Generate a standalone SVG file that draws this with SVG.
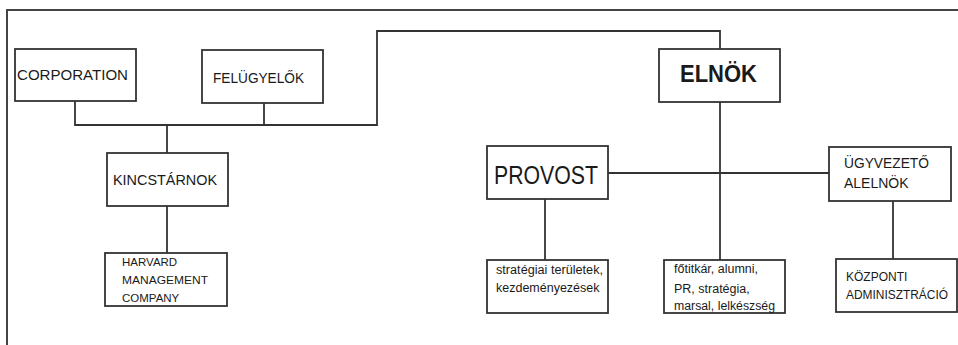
<svg xmlns="http://www.w3.org/2000/svg" width="958" height="345" viewBox="0 0 958 345">
<style>
.box{fill:#fff;stroke:#333;stroke-width:1.8}
.ln{fill:none;stroke:#333;stroke-width:1.8}
.frame{fill:none;stroke:#444;stroke-width:2}
text{font-family:"Liberation Sans",Arial,sans-serif;fill:#1a1a1a}
</style>
<rect width="958" height="345" fill="#fff"/>
<path class="frame" d="M7,345 V10 H958"/>
<g id="connectors">
<path class="ln" d="M75,101 V125 H377 V31 H720 V49"/>
<path class="ln" d="M264,103 V125"/>
<path class="ln" d="M167,125 V153"/>
<path class="ln" d="M167,206 V253"/>
<path class="ln" d="M720,102 V260"/>
<path class="ln" d="M608,173 H829"/>
<path class="ln" d="M545,199 V260"/>
<path class="ln" d="M893,201 V259"/>
</g>
<g id="corporation">
<rect class="box" x="15" y="49" width="121" height="52"/>
<text x="17" y="80" font-size="14.5" textLength="111" lengthAdjust="spacingAndGlyphs">CORPORATION</text>
</g>
<g id="felugyelok">
<rect class="box" x="202" y="50" width="121" height="53"/>
<text x="213" y="83" font-size="14.5" textLength="91" lengthAdjust="spacingAndGlyphs">FELÜGYELŐK</text>
</g>
<g id="elnok">
<rect class="box" x="659" y="49" width="121" height="53"/>
<text x="680" y="82" font-size="23" font-weight="bold" textLength="77" lengthAdjust="spacingAndGlyphs">ELNÖK</text>
</g>
<g id="kincstarnok">
<rect class="box" x="107" y="153" width="121" height="53"/>
<text x="113" y="185" font-size="14.5" textLength="104" lengthAdjust="spacingAndGlyphs">KINCSTÁRNOK</text>
</g>
<g id="harvard">
<rect class="box" x="105" y="253" width="122" height="53"/>
<text x="122" y="266" font-size="11.5">HARVARD</text>
<text x="122" y="284" font-size="11.5" textLength="86" lengthAdjust="spacingAndGlyphs">MANAGEMENT</text>
<text x="122" y="302" font-size="11.5">COMPANY</text>
</g>
<g id="provost">
<rect class="box" x="487" y="146" width="121" height="53"/>
<text x="494" y="184" font-size="25" textLength="104" lengthAdjust="spacingAndGlyphs">PROVOST</text>
</g>
<g id="ugyvezeto">
<rect class="box" x="829" y="147" width="122" height="54"/>
<text x="844" y="168" font-size="14" textLength="85" lengthAdjust="spacingAndGlyphs">ÜGYVEZETŐ</text>
<text x="844" y="188" font-size="14">ALELNÖK</text>
</g>
<g id="strategiai">
<rect class="box" x="487" y="260" width="121" height="53"/>
<text x="496" y="274" font-size="12.5" textLength="107" lengthAdjust="spacingAndGlyphs">stratégiai területek,</text>
<text x="496" y="292" font-size="12.5">kezdeményezések</text>
</g>
<g id="fotitkar">
<rect class="box" x="664" y="260" width="121" height="53"/>
<text x="674" y="273" font-size="12.5">főtitkár, alumni,</text>
<text x="674" y="293" font-size="12.5">PR, stratégia,</text>
<text x="674" y="310" font-size="12.5" textLength="101" lengthAdjust="spacingAndGlyphs">marsal, lelkészség</text>
</g>
<g id="kozponti">
<rect class="box" x="836" y="259" width="121" height="53"/>
<text x="846" y="281" font-size="12">KÖZPONTI</text>
<text x="846" y="299" font-size="12" textLength="102" lengthAdjust="spacingAndGlyphs">ADMINISZTRÁCIÓ</text>
</g>
</svg>
